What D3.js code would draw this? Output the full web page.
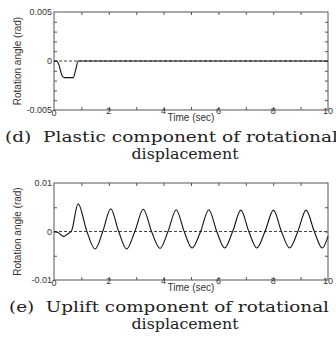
<!DOCTYPE html>
<html>
<head>
<meta charset="utf-8">
<script src="https://cdn.jsdelivr.net/npm/d3@7"></script>
<style>
  body { margin: 0; background: #fff; }
  svg { display: block; }
</style>
</head>
<body>
<div id="chart"></div>
<script>
// time axis
const timeTicks = [0, 2, 4, 6, 8, 10]
const timeMinor = [1, 2, 3, 4, 5, 6, 7, 8, 9]

// (d) plastic component
const plasticT = [0, 0.1, 0.18, 0.28, 0.37, 0.7, 0.8, 0.88, 10]
const plasticV = [0, 0, -0.0004, -0.0014, -0.0017, -0.0017, -0.0008, 0, 0]
const plasticYTicks = [-0.005, 0, 0.005]
const plasticYLabels = ['-0.005', '0', '0.005']
const plasticYMinor = [-0.004, -0.003, -0.002, -0.001, 0, 0.001, 0.002, 0.003, 0.004]

// (e) uplift component
const upliftT = [0, 0.15, 0.35, 0.52, 0.63, 0.88, 1.2, 1.5, 1.78, 2.07, 2.36, 2.65, 2.95, 3.26, 3.56, 3.87,
    4.16, 4.46, 4.75, 5.04, 5.35, 5.65, 5.94, 6.23, 6.52, 6.82, 7.11, 7.4, 7.7, 8.01, 8.3, 8.6, 8.9, 9.2, 9.5, 9.79, 10]
const upliftV = [0, -0.0002, -0.001, -0.0004, 0, 0.0057, 0, -0.0036, 0, 0.0047, 0, -0.0036, 0, 0.0046, 0, -0.0035,
    0, 0.0045, 0, -0.0034, 0, 0.0045, 0, -0.0034, 0, 0.0044, 0, -0.0034, 0, 0.0044, 0, -0.0034, 0, 0.0044, 0, -0.0034, -0.001]
const upliftYTicks = [-0.01, 0, 0.01]
const upliftYLabels = ['-0.01', '0', '0.01']
const upliftYMinor = [-0.005, 0, 0.005]

const width = 336
const height = 349
const left = 54, right = 328

const svg = d3.select('#chart')
    .append('svg')
    .attr('width', width)
    .attr('height', height)

const x = d3.scaleLinear().domain([0, 10]).range([left, right])

function panel(top, bottom, ymax, T, V, yTicks, yLabels, yMinor, caption, capX, capY, capLen) {
    const y = d3.scaleLinear().domain([-ymax, ymax]).range([bottom, top])
    const g = svg.append('g')

    // zero line
    g.append('line')
        .attr('x1', x(0)).attr('x2', x(10))
        .attr('y1', y(0)).attr('y2', y(0))
        .attr('stroke', '#444')
        .attr('stroke-width', 1)
        .attr('stroke-dasharray', '3,2')

    // inward ticks
    g.append('g').attr('transform', `translate(0,${bottom})`)
        .call(d3.axisBottom(x).tickValues(timeMinor).tickSize(-3).tickFormat(''))
    g.append('g').attr('transform', `translate(0,${top})`)
        .call(d3.axisTop(x).tickValues(timeMinor).tickSize(-3).tickFormat(''))
    g.append('g').attr('transform', `translate(${left},0)`)
        .call(d3.axisLeft(y).tickValues(yMinor).tickSize(-3).tickFormat(''))
    g.append('g').attr('transform', `translate(${right},0)`)
        .call(d3.axisRight(y).tickValues(yMinor).tickSize(-3).tickFormat(''))
    g.selectAll('.domain').remove()
    g.selectAll('.tick line').attr('stroke', '#555')

    // frame
    g.append('rect')
        .attr('x', left).attr('y', top)
        .attr('width', right - left).attr('height', bottom - top)
        .attr('fill', 'none')
        .attr('stroke', '#555')
        .attr('stroke-width', 1)

    // curve
    const pts = T.map((t, i) => [t, V[i]])
    g.append('path')
        .datum(pts)
        .attr('fill', 'none')
        .attr('stroke', '#111')
        .attr('stroke-width', 1.1)
        .attr('d', d3.line().x(d => x(d[0])).y(d => y(d[1])).curve(d3.curveMonotoneX))

    // tick labels
    g.selectAll('.xl')
        .data(timeTicks)
        .join('text')
        .attr('x', d => x(d))
        .attr('y', d => d === 0 ? bottom + 6 : bottom + 4)
        .attr('text-anchor', 'middle')
        .attr('font-family', 'Liberation Sans, Arial, sans-serif')
        .attr('font-size', 9)
        .attr('fill', '#333')
        .text(d => d)

    g.selectAll('.yl')
        .data(yTicks)
        .join('text')
        .attr('x', left - 2)
        .attr('y', d => y(d) + 3)
        .attr('text-anchor', 'end')
        .attr('font-family', 'Liberation Sans, Arial, sans-serif')
        .attr('font-size', 9)
        .attr('fill', '#333')
        .text((d, i) => yLabels[i])

    // axis titles
    g.append('text')
        .attr('x', (left + right) / 2)
        .attr('y', bottom + 11)
        .attr('text-anchor', 'middle')
        .attr('font-family', 'Liberation Sans, Arial, sans-serif')
        .attr('font-size', 10)
        .attr('fill', '#333')
        .text('Time (sec)')

    g.append('text')
        .attr('transform', `translate(21,${(top + bottom) / 2}) rotate(-90)`)
        .attr('text-anchor', 'middle')
        .attr('font-family', 'Liberation Sans, Arial, sans-serif')
        .attr('font-size', 10)
        .attr('fill', '#333')
        .text('Rotation angle (rad)')

    // caption
    g.append('text')
        .attr('x', capX)
        .attr('y', capY)
        .attr('font-family', 'DejaVu Serif, serif')
        .attr('font-size', 14.5)
        .attr('fill', '#222')
        .attr('textLength', capLen)
        .attr('lengthAdjust', 'spacingAndGlyphs')
        .text(caption)
    g.append('text')
        .attr('x', 185)
        .attr('y', capY + 17)
        .attr('text-anchor', 'middle')
        .attr('font-family', 'DejaVu Serif, serif')
        .attr('font-size', 14.5)
        .attr('fill', '#222')
        .attr('textLength', 107)
        .attr('lengthAdjust', 'spacingAndGlyphs')
        .text('displacement')
}

panel(12, 110, 0.005, plasticT, plasticV, plasticYTicks, plasticYLabels, plasticYMinor,
    '(d)\u00a0 Plastic component of rotational', 5, 142, 333)
panel(183, 280, 0.01, upliftT, upliftV, upliftYTicks, upliftYLabels, upliftYMinor,
    '(e)\u00a0 Uplift component of rotational', 9, 312, 320)
</script>
</body>
</html>
